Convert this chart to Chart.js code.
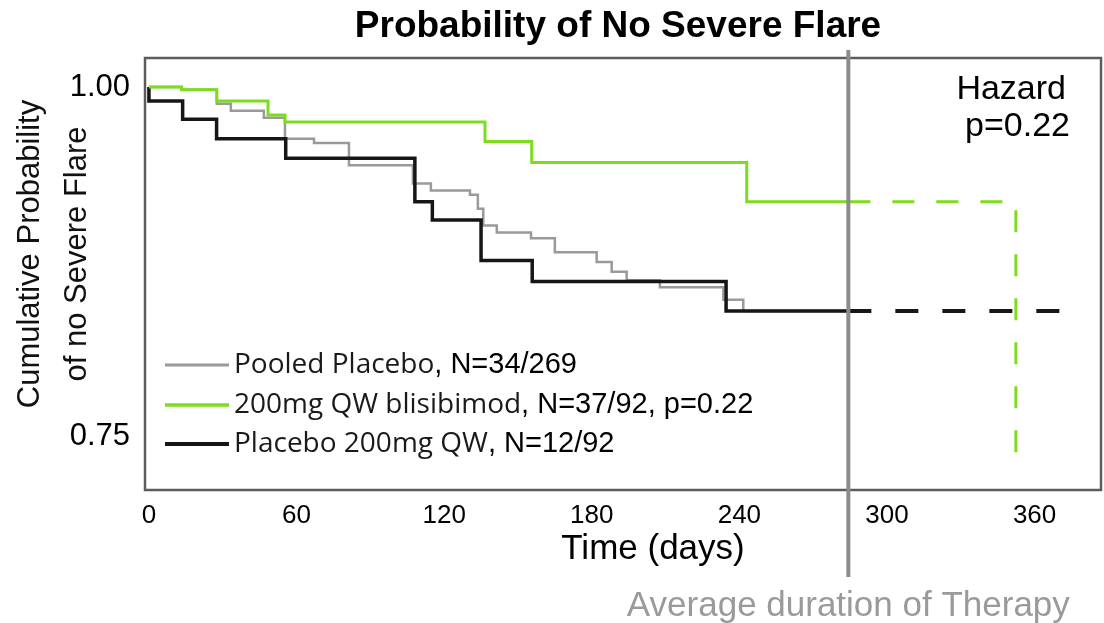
<!DOCTYPE html>
<html>
<head>
<meta charset="utf-8">
<script src="https://cdn.jsdelivr.net/npm/chart.js@4.4.1/dist/chart.umd.min.js"></script>
<style>
  html, body { margin: 0; padding: 0; background: #fff; }
  #wrap { width: 1104px; height: 623px; }
</style>
</head>
<body>
<div id="wrap"><canvas id="myChart" width="1104" height="623"></canvas></div>
<script>
// Kaplan-Meier steps: day of event, probability after it
const pooledDays = [0, 13.3, 27.6, 33.3, 46.7, 55.3, 67.1, 81.3, 107.3, 114.6, 130.5, 133.7, 135.9, 141.4, 155.3, 165.0, 182.0, 188.1, 194.2, 207.7, 233.5, 241.6, 284.3];
const pooledProb = [1.0, 0.998, 0.988, 0.983, 0.978, 0.963, 0.960, 0.944, 0.931, 0.926, 0.923, 0.913, 0.901, 0.896, 0.892, 0.882, 0.875, 0.868, 0.862, 0.857, 0.848, 0.840, 0.840];

const blisDays = [0, 13.3, 27.6, 48.4, 55.3, 136.6, 155.6, 243.0, 284.3];
const blisProb = [1.0, 0.998, 0.990, 0.980, 0.975, 0.961, 0.946, 0.918, 0.918];

const placeboDays = [0, 0, 13.7, 27.5, 55.6, 108.1, 115.2, 135.0, 155.8, 234.6, 284.3];
const placeboProb = [1.0, 0.990, 0.977, 0.963, 0.949, 0.918, 0.905, 0.876, 0.861, 0.840, 0.840];

// dashed extensions past the average duration of therapy
const blisExtDays = [284.3, 352.4, 352.4];
const blisExtProb = [0.918, 0.918, 0.736];
const placeboExtDays = [284.3, 376.4];
const placeboExtProb = [0.840, 0.840];

const therapyDay = 284.3;
const xTicks = [0, 60, 120, 180, 240, 300, 360];
const yTicks = [0.75, 1.0];

const legendNames = ["Pooled Placebo", "200mg QW blisibimod", "Placebo 200mg QW"];
const legendCounts = [", N=34/269", ", N=37/92, p=0.22", ", N=12/92"];

const GREEN = "#7edc1e";
const GRAY = "#9a9a9a";
const BLACK = "#161616";
const SANS = "'Liberation Sans', Arial, sans-serif";

const toPoints = (xs, ys) => xs.map((x, i) => ({ x: x, y: ys[i] }));

const extras = {
  id: "extras",
  beforeDatasetsDraw(chart) {
    const { ctx, chartArea: a } = chart;
    ctx.save();
    ctx.strokeStyle = "#5c5c5c";
    ctx.lineWidth = 2.5;
    ctx.strokeRect(a.left, a.top, a.right - a.left, a.bottom - a.top);
    ctx.restore();
  },
  afterDatasetsDraw(chart) {
    const { ctx, chartArea: a, scales } = chart;
    const tx = scales.x.getPixelForValue(therapyDay);
    ctx.save();

    // average duration of therapy marker
    ctx.strokeStyle = "#8c8c8c";
    ctx.lineWidth = 4;
    ctx.beginPath();
    ctx.moveTo(tx, a.top - 8);
    ctx.lineTo(tx, a.bottom + 87);
    ctx.stroke();

    ctx.textBaseline = "middle";
    ctx.textAlign = "center";
    ctx.fillStyle = "#000";
    ctx.font = "bold 37px " + SANS;
    ctx.fillText("Probability of No Severe Flare", (a.left + a.right) / 2 - 5, a.top - 31);

    ctx.fillStyle = "#9a9a9a";
    ctx.font = "35px " + SANS;
    ctx.fillText("Average duration of Therapy", tx, a.bottom + 116);

    ctx.fillStyle = "#000";
    ctx.font = "35px " + SANS;
    ctx.fillText("Time (days)", (a.left + a.right) / 2 + 30, a.bottom + 59);

    ctx.textAlign = "right";
    ctx.font = "34px " + SANS;
    ctx.fillText("Hazard", a.right - 35, a.top + 32);
    ctx.fillText("p=0.22", a.right - 31, a.top + 69);

    // y title, two rotated lines
    ctx.save();
    ctx.translate(0, a.top + 196);
    ctx.rotate(-Math.PI / 2);
    ctx.textAlign = "center";
    ctx.font = "31px " + SANS;
    ctx.fillStyle = "#111";
    ctx.fillText("Cumulative Probability", 0, 30);
    ctx.fillText("of no Severe Flare", 0, 77);
    ctx.restore();

    // legend for the three solid curves
    const rows = [a.top + 307, a.top + 347, a.top + 386];
    const sets = [2, 0, 1];
    rows.forEach((y, i) => {
      const ds = chart.data.datasets[sets[i]];
      ctx.strokeStyle = ds.borderColor;
      ctx.lineWidth = ds.borderWidth + 0.5;
      ctx.beginPath();
      ctx.moveTo(a.left + 20, y);
      ctx.lineTo(a.left + 84, y);
      ctx.stroke();
      ctx.textAlign = "left";
      ctx.fillStyle = "#1a1a1a";
      ctx.font = "28px 'Open Sans', sans-serif";
      const x0 = a.left + 89;
      ctx.fillText(legendNames[i], x0, y);
      const w = ctx.measureText(legendNames[i]).width;
      ctx.fillStyle = "#000";
      ctx.font = "29px " + SANS;
      ctx.fillText(legendCounts[i], x0 + w, y);
    });

    ctx.restore();
  },
};

const chart = new Chart(document.getElementById("myChart"), {
  type: "line",
  data: {
    datasets: [
      {
        label: "200mg QW blisibimod",
        data: toPoints(blisDays, blisProb),
        borderColor: GREEN,
        borderWidth: 3,
        stepped: true,
        order: 1,
      },
      {
        label: "Placebo 200mg QW",
        data: toPoints(placeboDays, placeboProb),
        borderColor: BLACK,
        borderWidth: 3.5,
        stepped: true,
        order: 2,
      },
      {
        label: "Pooled Placebo",
        data: toPoints(pooledDays, pooledProb),
        borderColor: GRAY,
        borderWidth: 2.5,
        stepped: true,
        order: 3,
      },
      {
        label: "blisibimod extension",
        data: toPoints(blisExtDays, blisExtProb),
        borderColor: GREEN,
        borderWidth: 3,
        borderDash: [22, 22],
        stepped: true,
        order: 0,
      },
      {
        label: "placebo extension",
        data: toPoints(placeboExtDays, placeboExtProb),
        borderColor: BLACK,
        borderWidth: 4,
        borderDash: [23, 24],
        order: 0,
      },
    ],
  },
  options: {
    responsive: false,
    animation: false,
    devicePixelRatio: 1,
    layout: { padding: { left: 0, right: 3, top: 58, bottom: 0 } },
    elements: { point: { radius: 0 }, line: { tension: 0, fill: false } },
    scales: {
      x: {
        type: "linear",
        min: -1.6,
        max: 387,
        grid: { display: false, drawTicks: false },
        border: { display: false },
        afterBuildTicks: (scale) => {
          scale.ticks = xTicks.map((v) => ({ value: v }));
        },
        afterFit: (scale) => {
          scale.height = 133;
        },
        ticks: {
          autoSkip: false,
          maxRotation: 0,
          padding: 10,
          color: "#000",
          font: { family: SANS, size: 26 },
          callback: (value) => `${value}`,
        },
      },
      y: {
        type: "linear",
        min: 0.7121,
        max: 1.0207,
        grid: { display: false, drawTicks: false },
        border: { display: false },
        afterBuildTicks: (scale) => {
          scale.ticks = yTicks.map((v) => ({ value: v }));
        },
        afterFit: (scale) => {
          scale.width = 145;
        },
        ticks: {
          padding: 15,
          color: "#000",
          font: { family: SANS, size: 31 },
          callback: (value) => value.toFixed(2),
        },
      },
    },
    plugins: {
      legend: { display: false },
      tooltip: { enabled: false },
      title: { display: false },
    },
  },
  plugins: [extras],
});
</script>
</body>
</html>
